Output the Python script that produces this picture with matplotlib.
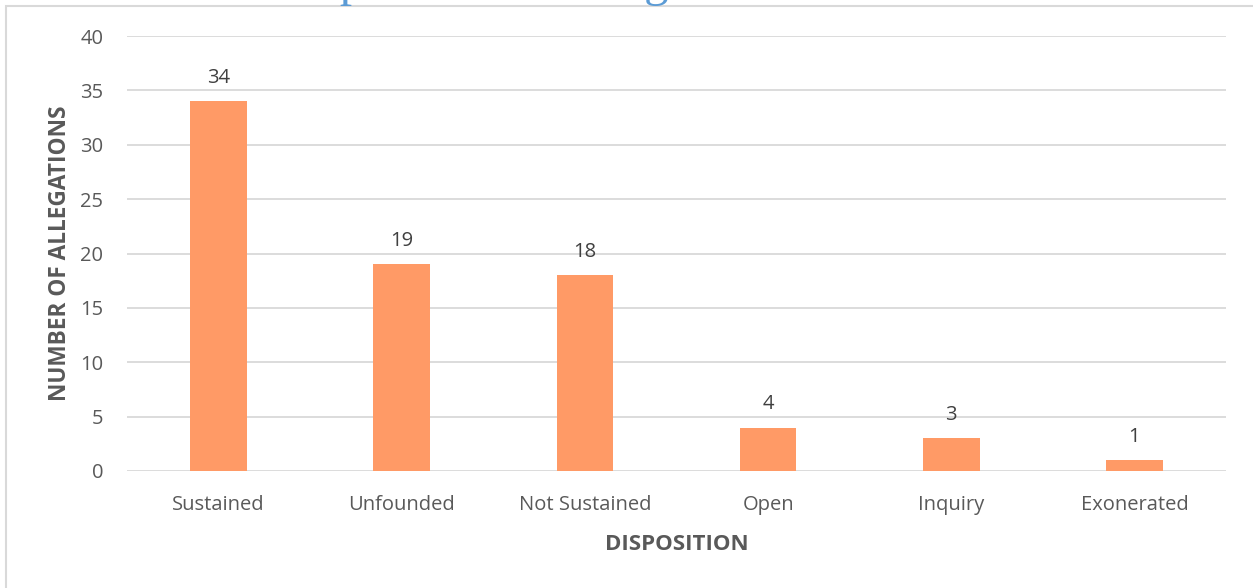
import matplotlib
matplotlib.use("Agg")
import matplotlib.pyplot as plt
from matplotlib.patches import Rectangle

categories = ["Sustained", "Unfounded", "Not Sustained", "Open", "Inquiry", "Exonerated"]
values = [34, 19, 18, 4, 3, 1]
yticks = [0, 5, 10, 15, 20, 25, 30, 35, 40]
title_text = "Disposition of Allegations"
x_label = "DISPOSITION"
y_label = "NUMBER OF ALLEGATIONS"

plt.rcParams['font.family'] = ['Open Sans', 'DejaVu Sans']

W, H = 1253, 588
fig = plt.figure(figsize=(W / 100, H / 100), dpi=100)
fig.patch.set_facecolor("white")

ax = fig.add_axes([127 / W, 1 - 471 / H, (1226 - 127) / W, (471 - 36) / H])

bar_color = "#FF9A66"
text_color = "#595959"
grid_color = "#D9D9D9"

x = list(range(len(categories)))
bars = ax.bar(x, values, width=0.31, color=bar_color, zorder=3)
for xi, v in zip(x, values):
    ax.annotate(str(v), (xi, v), xytext=(0, 9.5), textcoords="offset points",
                ha="center", va="bottom", fontsize=14.5, color="#404040")

ax.set_xlim(-0.5, len(categories) - 0.5)
ax.set_ylim(0, 40)
ax.set_yticks(yticks)
ax.set_xticks(x)
ax.set_xticklabels(categories)
ax.tick_params(axis="both", length=0, labelsize=14.5, colors=text_color)
ax.tick_params(axis="x", pad=17)
ax.tick_params(axis="y", pad=17)
ax.yaxis.grid(True, color=grid_color, linewidth=1.3, zorder=0)
for s in ax.spines.values():
    s.set_visible(False)
ax.set_facecolor("none")

ax.set_xlabel(x_label, fontsize=16, fontweight="bold", color=text_color, labelpad=14)
ax.set_ylabel(y_label, fontsize=16.3, fontweight="bold", color=text_color, labelpad=6)

# outer chart frame (partly cropped)
fig.add_artist(Rectangle((6 / W, -0.1), 1.2, 1 - 6 / H + 0.1, transform=fig.transFigure,
                         fill=False, edgecolor="#D9D9D9", linewidth=1.5))

# cropped title (only descenders visible)
fig.text(272 / W, 1 + 4 / H, title_text, fontsize=35.2, color="#5B9BD5",
         family="Liberation Serif", ha="left", va="baseline")

fig.savefig("out.png", dpi=100)
